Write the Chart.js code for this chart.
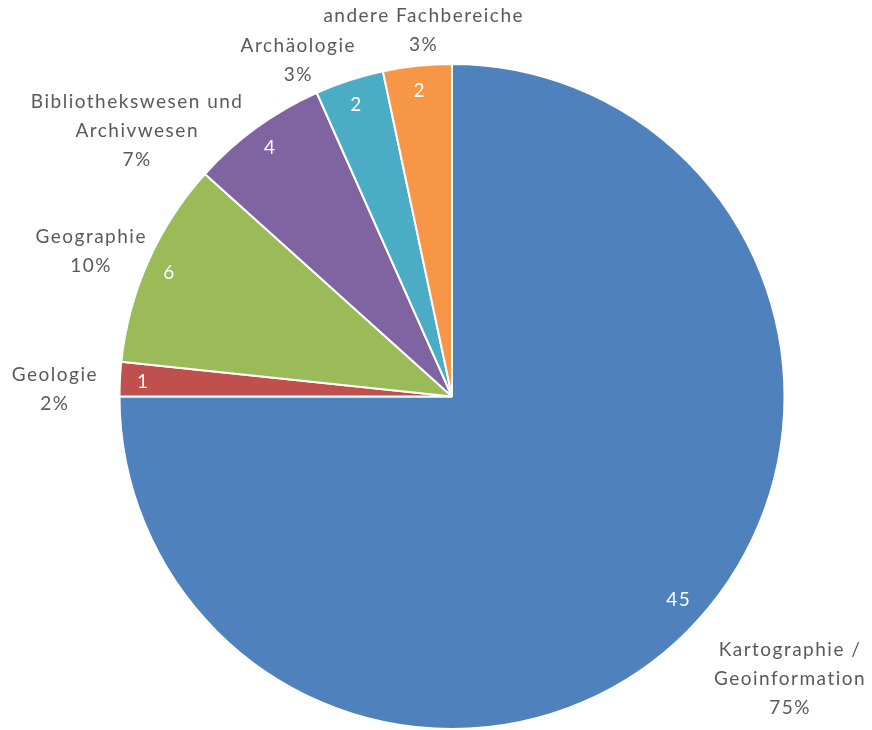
<!DOCTYPE html>
<html>
<head>
<meta charset="utf-8">
<script src="https://cdn.jsdelivr.net/npm/chart.js@4"></script>
<style>
  html, body { margin: 0; padding: 0; background: #fff; }
  #wrap { width: 872px; height: 730px; position: relative; }
</style>
</head>
<body>
<div id="wrap"><canvas id="pieChart" width="872" height="730"></canvas></div>
<script>
// Fachbereiche (Reihenfolge im Uhrzeigersinn ab 12 Uhr)
const categories = [
    ['Kartographie /', 'Geoinformation'],
    ['Geologie'],
    ['Geographie'],
    ['Bibliothekswesen und', 'Archivwesen'],
    ['Archäologie'],
    ['andere Fachbereiche']
];
const counts = [45, 1, 6, 4, 2, 2];
const colors = ['#4F81BD', '#C0504D', '#9BBB59', '#8064A2', '#4BACC6', '#F79646'];

// kleine Verschiebungen der Beschriftungen (wie Excel sie gesetzt hat)
const labelNudge = [[42, 9], [-12, 12], [3, 6], [-51, 47], [-30, 17], [18, 3]];
const valueNudge = [[8, -17], [0, 0], [0, 0], [0, 0], [0, 0], [0, 0]];

const FONT = '19px Lato, "Open Sans", sans-serif';
const LINE_H = 29;

const pieLabels = {
    id: 'pieLabels',
    afterDatasetsDraw(chart) {
        const ctx = chart.ctx;
        const meta = chart.getDatasetMeta(0);
        const total = counts.reduce((a, b) => a + b, 0);
        ctx.save();
        ctx.font = FONT;
        ctx.letterSpacing = '1.5px';
        ctx.textAlign = 'center';
        ctx.textBaseline = 'middle';
        meta.data.forEach((arc, i) => {
            const p = arc.getProps(['x', 'y', 'startAngle', 'endAngle', 'outerRadius'], true);
            const mid = (p.startAngle + p.endAngle) / 2;
            const cos = Math.cos(mid), sin = Math.sin(mid);

            // Wert innen
            ctx.fillStyle = '#ffffff';
            const ri = p.outerRadius * 0.93;
            ctx.fillText(String(counts[i]), p.x + cos * ri + valueNudge[i][0], p.y + sin * ri + valueNudge[i][1] + 2);

            // Kategorie + Prozent außen
            const lines = categories[i].concat([Math.round(counts[i] / total * 100) + '%']);
            const halfW = Math.max(...lines.map(l => ctx.measureText(l).width)) / 2;
            const halfH = lines.length * LINE_H / 2;
            const ro = p.outerRadius + 10;
            const cx = p.x + cos * ro + cos * halfW + labelNudge[i][0];
            const cy = p.y + sin * ro + sin * halfH + labelNudge[i][1];
            ctx.fillStyle = '#595959';
            lines.forEach((l, k) => {
                ctx.fillText(l, cx, cy - halfH + LINE_H * (k + 0.5));
            });
        });
        ctx.restore();
    }
};

document.addEventListener('DOMContentLoaded', () => {
    const ctx = document.getElementById('pieChart').getContext('2d');
    new Chart(ctx, {
        type: 'pie',
        data: {
            labels: categories,
            datasets: [{
                data: counts,
                backgroundColor: colors,
                borderColor: '#ffffff',
                borderWidth: 2,
                hoverOffset: 0
            }]
        },
        options: {
            responsive: false,
            animation: false,
            layout: { padding: { left: 117, right: 85, top: 63, bottom: -3 } },
            plugins: { legend: { display: false }, tooltip: { enabled: false } }
        },
        plugins: [pieLabels]
    });
});
</script>
</body>
</html>
